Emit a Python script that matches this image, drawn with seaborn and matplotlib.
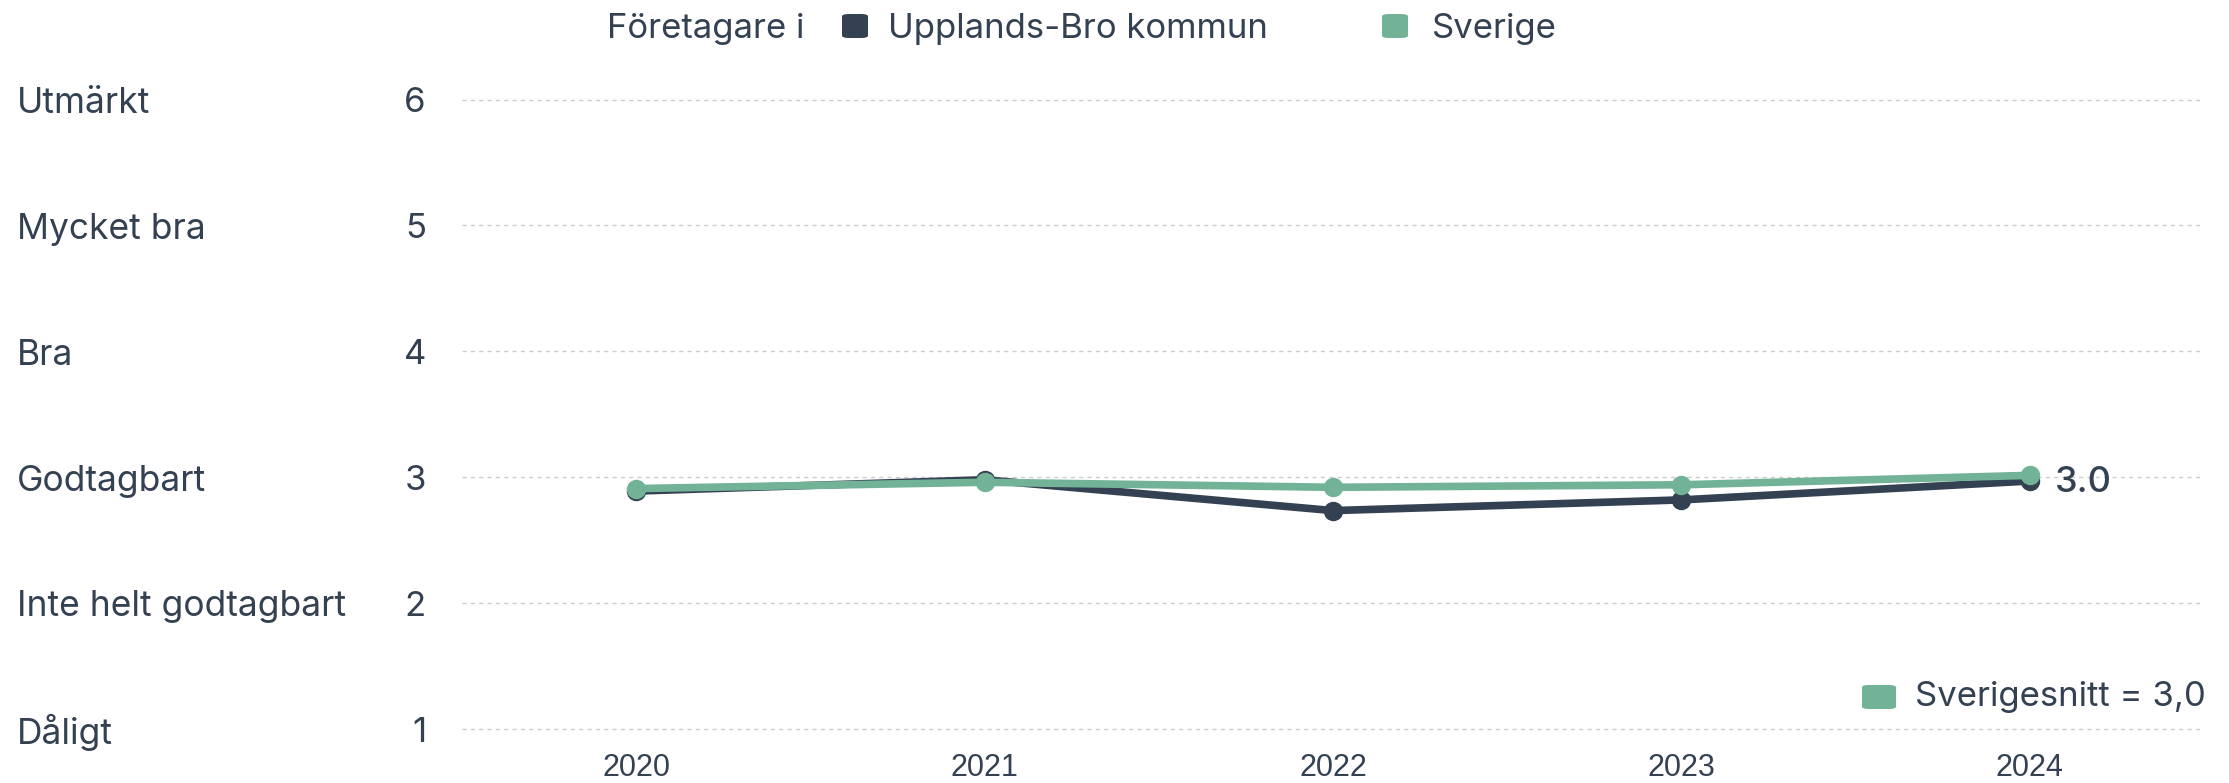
import pandas as pd
import seaborn as sns
import matplotlib.pyplot as plt
from matplotlib.patches import FancyBboxPatch
from matplotlib.transforms import blended_transform_factory

years = [2020, 2021, 2022, 2023, 2024]
kommun = [2.89, 2.98, 2.735, 2.82, 2.97]
sverige = [2.91, 2.96, 2.92, 2.94, 3.015]
series_names = ["Upplands-Bro kommun", "Sverige"]
level_ticks = [1, 2, 3, 4, 5, 6]
level_labels = ["Dåligt", "Inte helt godtagbart", "Godtagbart", "Bra", "Mycket bra", "Utmärkt"]
last_label = "3.0"
avg_label = "Sverigesnitt = 3,0"

dark = "#344152"
green = "#72b398"
text_col = "#344152"

df = pd.DataFrame({
    "År": years * 2,
    "Värde": kommun + sverige,
    "Serie": [series_names[0]] * len(years) + [series_names[1]] * len(years),
})

sns.set_style("white")
plt.rcParams["font.family"] = ["Inter", "DejaVu Sans"]

fig = plt.figure(figsize=(22.29, 7.83), dpi=100)
ax = fig.add_axes([0.2073, 0.0448, 0.7815, 0.8522])

sns.lineplot(
    data=df, x="År", y="Värde", hue="Serie",
    palette={series_names[0]: dark, series_names[1]: green},
    marker="o", markersize=14, markeredgewidth=0,
    linewidth=5.5, legend=False, ax=ax,
)

ax.set_xlim(2019.5, 2024.5)
ax.set_ylim(0.85, 6.15)
ax.set_xticks(years)
ax.set_xticklabels([str(y) for y in years], fontsize=22, color=text_col,
                   family=["Liberation Sans", "DejaVu Sans"])
ax.set_yticks(level_ticks)
ax.set_yticklabels([str(t) for t in level_ticks], fontsize=25, color=text_col)
ax.tick_params(axis="y", length=0, pad=26)
ax.tick_params(axis="x", length=0, pad=4)
ax.set_xlabel("")
ax.set_ylabel("")
for s in ax.spines.values():
    s.set_visible(False)
ax.yaxis.grid(True, color="#cccccc", linestyle=(0, (3, 3)), linewidth=1)
ax.set_axisbelow(True)

# category labels on far left
tr = blended_transform_factory(fig.transFigure, ax.transData)
for t, lab in zip(level_ticks, level_labels):
    ax.text(0.0076, t - 0.03, lab, transform=tr, ha="left", va="center",
            fontsize=25.5, color=text_col)

# end label
ax.annotate(last_label, (years[-1], kommun[-1]), xytext=(18, -1),
            textcoords="offset points", ha="left", va="center",
            fontsize=26, color=text_col, fontweight="medium")

# top legend
ty = 1 - 29 / 783
fig.text(607 / 2229, ty, "Företagare i", ha="left", va="center",
         fontsize=25, color=text_col)
for x0, col in [(842, dark), (1382, green)]:
    fig.patches.append(FancyBboxPatch(
        (x0 / 2229, 1 - 38 / 783), 26 / 2229, 24 / 783,
        boxstyle="round,pad=0,rounding_size=0.003", transform=fig.transFigure,
        facecolor=col, edgecolor="none"))
fig.text(888 / 2229, ty, series_names[0], ha="left", va="center",
         fontsize=25, color=text_col)
fig.text(1432 / 2229, ty, series_names[1], ha="left", va="center",
         fontsize=25, color=text_col)

# bottom-right average legend
fig.patches.append(FancyBboxPatch(
    (1862 / 2229, 1 - 709 / 783), 34 / 2229, 24 / 783,
    boxstyle="round,pad=0,rounding_size=0.003", transform=fig.transFigure,
    facecolor=green, edgecolor="none"))
fig.text(1915 / 2229, 1 - 697 / 783, avg_label, ha="left", va="center",
         fontsize=25, color=text_col)

fig.savefig("out.png", dpi=100)
